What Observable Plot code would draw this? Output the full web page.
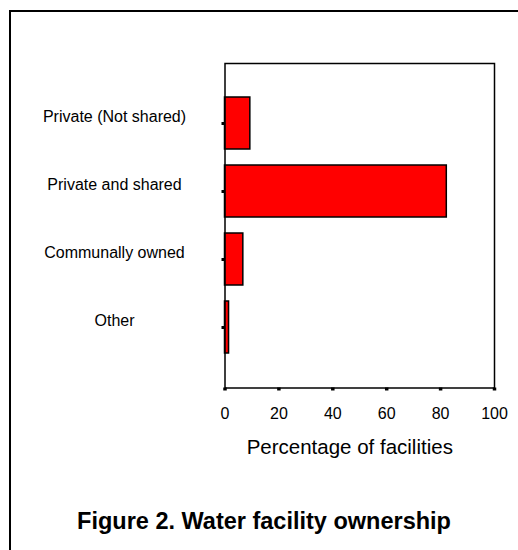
<!DOCTYPE html>
<html>
<head>
<meta charset="utf-8">
<script src="https://cdn.jsdelivr.net/npm/d3@7"></script>
<script src="https://cdn.jsdelivr.net/npm/@observablehq/plot@0.6"></script>
<style>
  html, body { margin: 0; padding: 0; background: #fff; overflow: hidden; }
  #wrap { position: relative; width: 518px; height: 550px; overflow: hidden; font-family: "Liberation Sans", Arial, sans-serif; }
  #border { position: absolute; left: 9px; top: 10px; width: 700px; height: 700px; border: 2px solid #000; box-sizing: border-box; }
  #chart { position: absolute; left: 0; top: 0; }
  #title { position: absolute; left: 0; width: 528px; top: 510px; text-align: center; font-weight: bold; font-size: 23.5px; line-height: 23.5px; color: #000; white-space: nowrap; }
</style>
</head>
<body>
<div id="wrap">
  <div id="border"></div>
  <div id="chart"></div>
  <div id="title">Figure 2. Water facility ownership</div>
</div>
<script>
const categories = ["Private (Not shared)", "Private and shared", "Communally owned", "Other"];
const percentages = [9.4, 82.3, 6.8, 1.5];
const xTicks = [0, 20, 40, 60, 80, 100];
const xTitle = "Percentage of facilities";

const rows = categories.map((c, i) => ({category: c, value: percentages[i]}));

const chart = Plot.plot({
  width: 518,
  height: 550,
  marginLeft: 224.5,
  marginRight: 24,
  marginTop: 63,
  marginBottom: 162.5,
  style: {fontFamily: "'Liberation Sans', Arial, sans-serif", fontSize: "16px", background: "transparent", color: "#000", overflow: "visible"},
  x: {domain: [0, 100], label: null},
  y: {domain: categories, paddingInner: 0.23, paddingOuter: 0.47, label: null},
  marks: [
    Plot.barX(rows, {x: "value", y: "category", fill: "#ff0000", stroke: "#000", strokeWidth: 1.5}),
    Plot.frame({stroke: "#000", strokeWidth: 1.5}),
    Plot.axisX({ticks: xTicks, tickSize: 3, strokeWidth: 3.5, tickPadding: 16.5, fontSize: 16, label: null, tickFormat: d => String(d)}),
    Plot.axisY({tickSize: 3, strokeWidth: 3, fill: "none", label: null}),
    Plot.axisY({tickSize: 0, tickPadding: 110.5, textAnchor: "middle", dy: -7, fontSize: 16, label: null}),
    Plot.text([xTitle], {text: d => d, frameAnchor: "bottom", lineAnchor: "middle", dx: -10, dy: 59, fontSize: 20.5})
  ]
});
document.getElementById("chart").appendChild(chart);
</script>
</body>
</html>
